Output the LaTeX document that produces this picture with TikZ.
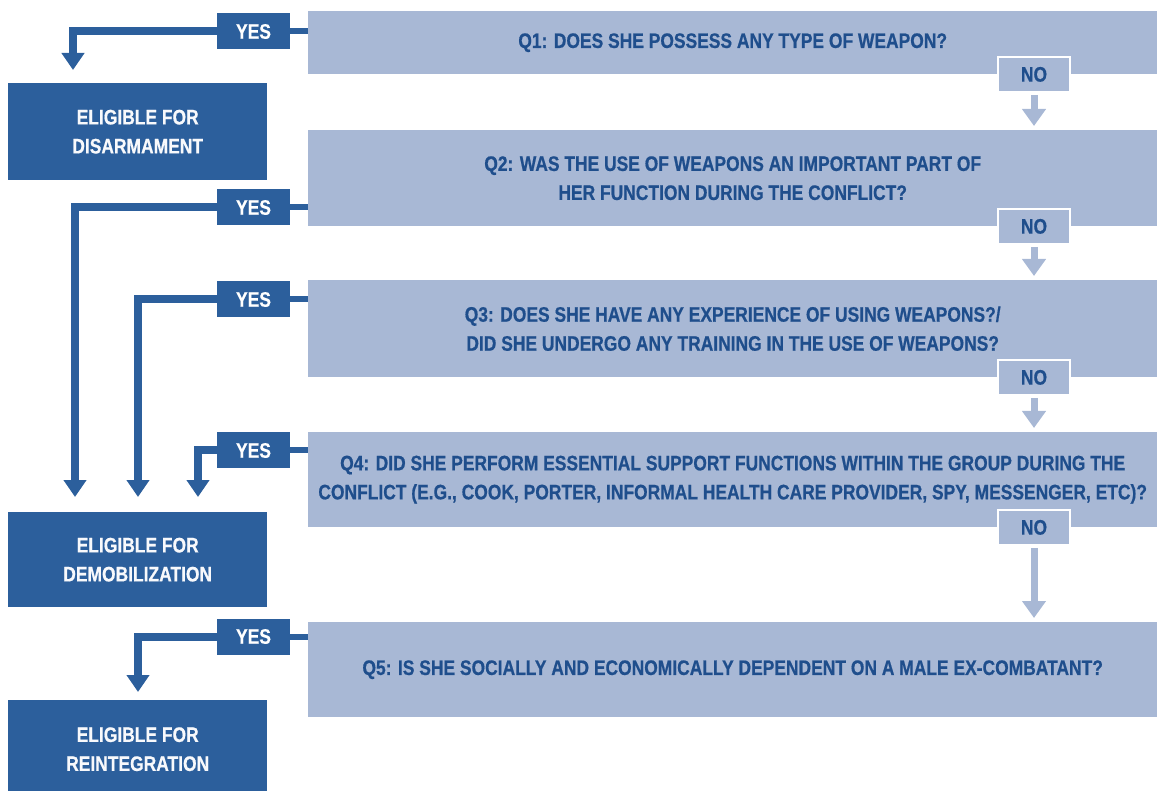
\documentclass[tikz,border=0pt]{standalone}
\usepackage{fontspec}
\setmainfont{Liberation Sans}[FakeStretch=0.83,BoldFeatures={FakeBold=0.6}]
\usepackage{tikz}
\usetikzlibrary{arrows.meta,positioning,calc}
\definecolor{ddrblue}{RGB}{44,95,156}
\definecolor{ddrlight}{RGB}{168,184,213}
\definecolor{ddrtext}{RGB}{31,78,140}
\newcommand\ddrfont{\fontsize{21}{29}\selectfont\bfseries}

\begin{document}
\begin{tikzpicture}[x=1pt,y=-1pt,
  question/.style={fill=ddrlight,anchor=north west,minimum width=849pt,inner sep=0pt,align=center,text=ddrtext,font=\ddrfont},
  eligible/.style={fill=ddrblue,anchor=north west,minimum width=259pt,inner sep=0pt,align=center,text=white!92!ddrlight,font=\ddrfont},
  yesbox/.style={fill=ddrblue,minimum width=73pt,minimum height=36pt,inner sep=0pt,text=white,font=\ddrfont},
  nobox/.style={fill=ddrlight,draw=white,line width=2pt,minimum width=72pt,minimum height=35pt,inner sep=0pt,text=ddrtext,font=\ddrfont},
  yesarrow/.style={draw=ddrblue,line width=8pt,-{Triangle[width=22pt,length=17pt]}},
  yesstub/.style={draw=ddrblue,line width=6pt},
  noarrow/.style={draw=ddrlight,line width=7pt,shorten <=2pt,shorten >=4pt,-{Triangle[width=23pt,length=17pt]}}]
\useasboundingbox (0,0) rectangle (1157,791);

% questions
\node[question,minimum height=63pt] (q1) at (308,11) {Q1: DOES SHE POSSESS ANY TYPE OF WEAPON?};
\node[question,minimum height=96pt] (q2) at (308,130) {Q2: WAS THE USE OF WEAPONS AN IMPORTANT PART OF\\HER FUNCTION DURING THE CONFLICT?};
\node[question,minimum height=97pt] (q3) at (308,280) {Q3: DOES SHE HAVE ANY EXPERIENCE OF USING WEAPONS?/\\DID SHE UNDERGO ANY TRAINING IN THE USE OF WEAPONS?};
\node[question,minimum height=95pt] (q4) at (308,432) {Q4: DID SHE PERFORM ESSENTIAL SUPPORT FUNCTIONS WITHIN THE GROUP DURING THE\\CONFLICT (E.G., COOK, PORTER, INFORMAL HEALTH CARE PROVIDER, SPY, MESSENGER, ETC)?};
\node[question,minimum height=95pt] (q5) at (308,622) {Q5: IS SHE SOCIALLY AND ECONOMICALLY DEPENDENT ON A MALE EX-COMBATANT?};

% outcomes
\node[eligible,minimum height=97pt] (dis) at (8,83) {ELIGIBLE FOR\\DISARMAMENT};
\node[eligible,minimum height=95pt] (dem) at (8,512) {ELIGIBLE FOR\\DEMOBILIZATION};
\node[eligible,minimum height=98pt] (rei) at (8,700) {ELIGIBLE FOR\\REINTEGRATION};

% yes branch
\draw[yesarrow,shorten >=13pt] (253.5,31.5) -| ([xshift=65pt]dis.north west);
\draw[yesarrow,shorten >=15pt] (253.5,207.5) -| ([xshift=67pt]dem.north west);
\draw[yesarrow,shorten >=15pt] (253.5,299.5) -| ([xshift=130pt]dem.north west);
\draw[yesarrow,shorten >=15pt] (253.5,450.5) -| ([xshift=190pt]dem.north west);
\draw[yesarrow,shorten >=8pt] (253.5,636.5) -| ([xshift=130pt]rei.north west);
\foreach \i/\y in {1/31.5,2/207.5,3/299.5,4/450.5,5/636.5}{
  \node[yesbox] (y\i) at (253.5,\y) {YES};
  \draw[yesstub] (y\i.east) -- (y\i.east -| q\i.west);
}

% no branch
\coordinate (nocol) at (1034,0);
\foreach \i/\j in {1/2,2/3,3/4,4/5}{
  \node[nobox] (n\i) at (q\i.south -| nocol) {NO};
  \draw[noarrow] (n\i.south) -- (n\i.south |- q\j.north);
}
\end{tikzpicture}
\end{document}
